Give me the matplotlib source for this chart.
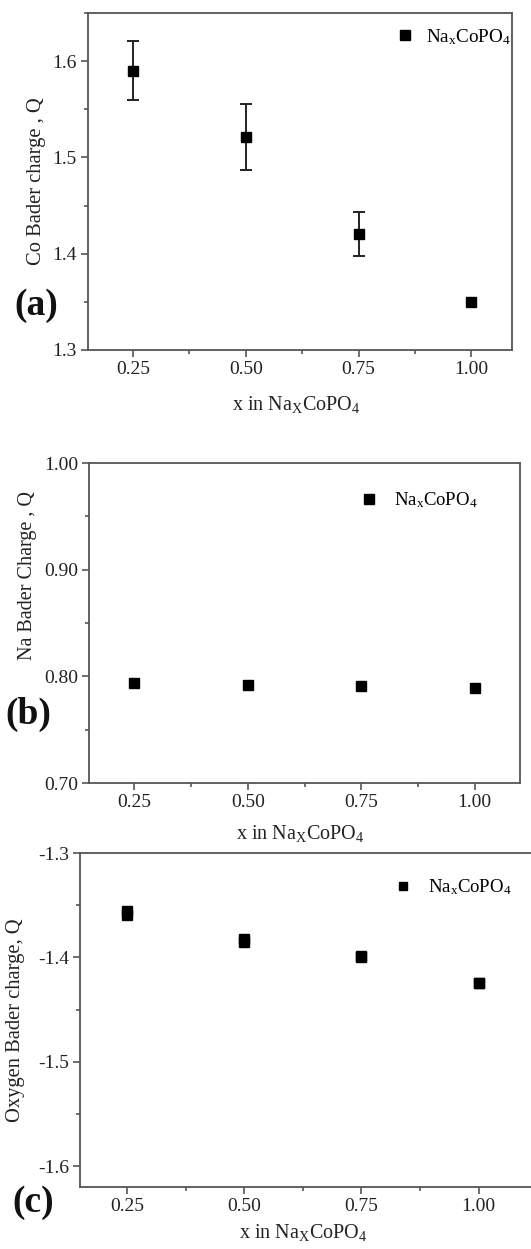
import matplotlib
matplotlib.use("Agg")
import matplotlib.pyplot as plt
from matplotlib.ticker import MultipleLocator

# ---- données ----
x_vals = [0.25, 0.50, 0.75, 1.00]

# (a) charge de Bader du Co, avec barres d'erreur (pas de barre pour x = 1)
co_charge = [1.590, 1.521, 1.420, 1.350]
co_err_bas = [0.030, 0.034, 0.022, float("nan")]
co_err_haut = [0.031, 0.034, 0.023, float("nan")]

# (b) charge de Bader du Na
na_charge = [0.794, 0.792, 0.791, 0.789]

# (c) charge de Bader de l'oxygène (deux points presque superposés)
o_charge_1 = [-1.356, -1.382, -1.399, -1.425]
o_charge_2 = [-1.359, -1.385, -1.400, -1.425]

x_ticks = [0.25, 0.50, 0.75, 1.00]
x_tick_labels = ["0.25", "0.50", "0.75", "1.00"]

legende = r"Na$\mathregular{_x}$CoPO$\mathregular{_4}$"
xlabel = r"x in Na$\mathregular{_X}$CoPO$\mathregular{_4}$"

plt.rcParams["font.family"] = ["Liberation Serif", "DejaVu Serif"]
plt.rcParams["mathtext.fontset"] = "stix"
plt.rcParams["axes.unicode_minus"] = False

W, H = 531, 1249
fig = plt.figure(figsize=(W / 100, H / 100), dpi=100)

spine_col = "#555555"
txt_col = "#222222"


def axe(left, right, top, bottom):
    # conversion pixels -> fractions de figure
    return fig.add_axes([left / W, 1 - bottom / H, (right - left) / W, (bottom - top) / H])


def habillage(ax, y_major, y_minor, y_fmt):
    ax.set_xticks(x_ticks)
    ax.set_xticklabels(x_tick_labels)
    ax.xaxis.set_minor_locator(MultipleLocator(0.125))
    ax.yaxis.set_major_locator(MultipleLocator(y_major))
    ax.yaxis.set_minor_locator(MultipleLocator(y_minor))
    ax.yaxis.set_major_formatter(y_fmt)
    for s in ax.spines.values():
        s.set_color(spine_col)
        s.set_linewidth(1.3)
    ax.tick_params(which="both", direction="out", color=spine_col, width=1.2,
                   top=False, right=False, labelsize=14, labelcolor=txt_col)
    ax.tick_params(which="major", length=5, pad=3)
    ax.tick_params(which="minor", length=3)


# ---------------- (a) ----------------
ax1 = axe(88, 512, 13, 350)
ax1.errorbar(x_vals, co_charge, yerr=[co_err_bas, co_err_haut], fmt="s", color="black",
             ms=7.5, ecolor="#222222", elinewidth=1.4, capsize=4, capthick=1.4,
             label=legende)
ax1.set_xlim(0.15, 1.09)
ax1.set_ylim(1.3, 1.65)
habillage(ax1, 0.1, 0.05, "{x:.1f}")
ax1.set_ylabel("Co Bader charge , Q", fontsize=14.8, color=txt_col)
ax1.yaxis.set_label_coords(-0.10, 0.5)
ax1.set_xlabel(xlabel, fontsize=14.5, color=txt_col)
ax1.xaxis.set_label_coords(0.49, -0.13)
h, l = ax1.get_legend_handles_labels()
h = [hh[0] for hh in h]
ax1.legend(h, l, loc="center left", bbox_to_anchor=(0.726, 0.929), frameon=False,
           fontsize=13.8, handlelength=1.0, handletextpad=0.6, borderpad=0,
           borderaxespad=0, markerscale=0.9)

# ---------------- (b) ----------------
ax2 = axe(89, 520, 463, 783)
ax2.plot(x_vals, na_charge, "s", color="black", ms=7.5, label=legende)
ax2.set_xlim(0.15, 1.10)
ax2.set_ylim(0.70, 1.00)
habillage(ax2, 0.1, 0.05, "{x:.2f}")
ax2.set_ylabel("Na Bader Charge , Q", fontsize=14.5, color=txt_col)
ax2.yaxis.set_label_coords(-0.12, 0.647)
ax2.set_xlabel(xlabel, fontsize=14.5, color=txt_col)
ax2.xaxis.set_label_coords(0.49, -0.125)
ax2.legend(loc="center left", bbox_to_anchor=(0.629, 0.883), frameon=False,
           fontsize=13.5, handlelength=1.0, handletextpad=0.8, borderpad=0,
           borderaxespad=0, markerscale=0.9)

# ---------------- (c) ----------------
ax3 = axe(80, 535, 853, 1187)
ax3.plot(x_vals, o_charge_1, "s", color="black", ms=7.5, label=legende)
ax3.plot(x_vals, o_charge_2, "s", color="black", ms=7.5)
ax3.set_xlim(0.15, 1.12)
ax3.set_ylim(-1.62, -1.30)
habillage(ax3, 0.1, 0.05, "{x:.1f}")
ax3.set_ylabel("Oxygen Bader charge, Q", fontsize=14.8, color=txt_col)
ax3.yaxis.set_label_coords(-0.12, 0.5)
ax3.set_xlabel(xlabel, fontsize=14.5, color=txt_col)
ax3.xaxis.set_label_coords(0.49, -0.105)
ax3.legend(loc="center left", bbox_to_anchor=(0.690, 0.898), frameon=False,
           fontsize=13.5, handlelength=1.0, handletextpad=0.8, borderpad=0,
           borderaxespad=0, markerscale=0.8)

# étiquettes des panneaux
for lab, px, py in [("(a)", 36, 305), ("(b)", 28, 714), ("(c)", 33, 1203)]:
    fig.text(px / W, 1 - py / H, lab, fontsize=27, fontweight="bold",
             ha="center", va="center", color="#111111")

fig.savefig("out.png", dpi=100)
